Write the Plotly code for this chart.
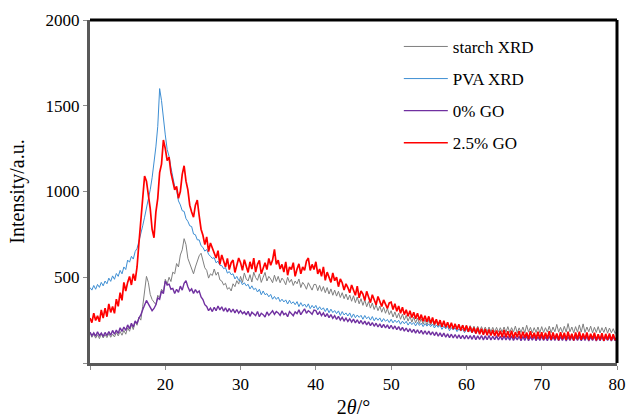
import numpy as np
import plotly.graph_objects as go

# scan grid: 10° to 80° in 0.25° steps (281 points)
two_theta = np.round(np.arange(10.0, 80.0001, 0.25), 2)

starch_xrd = [
    178, 150, 168, 145, 165, 142, 170, 146, 166, 148, 172, 150, 168, 152, 178, 158, 184, 162, 190, 168,
    205, 185, 222, 195, 240, 220, 268, 250, 330, 410, 505, 470, 400, 370, 352, 340, 395, 380, 430, 415,
    488, 460, 500, 475, 530, 520, 580, 560, 630, 660, 725, 690, 610, 580, 540, 520, 560, 590, 625, 640,
    600, 555, 540, 495, 520, 510, 548, 512, 530, 485, 478, 455, 465, 430, 440, 420, 462, 445, 480, 460,
    505, 470, 525, 490, 478, 515, 472, 530, 498, 482, 520, 470, 500, 528, 478, 505, 490, 468, 512, 476,
    505, 468, 495, 480, 456, 500, 470, 488, 452, 478, 462, 490, 440, 470, 455, 430, 468, 445, 425, 458,
    458, 422, 452, 418, 446, 410, 440, 402, 432, 395, 425, 390, 418, 382, 410, 375, 402, 368, 396, 360,
    392, 352, 385, 345, 375, 336, 368, 328, 358, 320, 350, 312, 340, 305, 332, 296, 325, 290, 318, 282,
    305, 268, 298, 262, 290, 255, 285, 250, 278, 244, 272, 238, 268, 234, 262, 230, 258, 226, 254, 222,
    252, 222, 248, 218, 244, 214, 240, 210, 236, 206, 232, 204, 230, 200, 228, 198, 225, 196, 222, 194,
    220, 190, 218, 188, 215, 186, 214, 185, 212, 184, 210, 182, 210, 182, 208, 180, 208, 180, 206, 180,
    210, 180, 212, 178, 206, 180, 215, 176, 205, 178, 210, 176, 220, 180, 208, 175, 206, 178, 210, 176,
    212, 178, 206, 180, 215, 176, 210, 182, 225, 180, 208, 178, 214, 180, 230, 182, 210, 176, 212, 180,
    222, 180, 228, 178, 210, 182, 215, 176, 208, 178, 212, 175, 206, 178, 210, 174, 204, 176, 200, 172,
    185,
]

pva_xrd = [
    440, 425, 452, 430, 458, 441, 470, 450, 478, 462, 495, 476, 508, 488, 522, 505, 540, 520, 560, 545,
    600, 588, 622, 606, 650, 668, 710, 748, 800, 850, 900, 950, 1010, 1080, 1160, 1260, 1380, 1600, 1530, 1420,
    1330, 1245, 1205, 1140, 1092, 1030, 1008, 945, 922, 888, 884, 842, 826, 800, 796, 752, 748, 718, 718, 684,
    674, 652, 662, 634, 622, 610, 614, 584, 594, 570, 568, 550, 556, 524, 533, 515, 520, 490, 505, 482,
    480, 456, 468, 450, 459, 432, 450, 428, 436, 414, 430, 398, 420, 398, 405, 386, 400, 372, 388, 371,
    384, 358, 372, 356, 368, 344, 366, 346, 357, 340, 358, 329, 352, 331, 344, 325, 345, 317, 336, 320,
    336, 310, 328, 310, 322, 300, 320, 293, 314, 294, 306, 288, 304, 277, 300, 280, 292, 274, 292, 265,
    286, 264, 280, 266, 278, 255, 277, 258, 270, 250, 271, 246, 264, 249, 263, 240, 259, 243, 254, 236,
    255, 234, 250, 236, 249, 226, 244, 229, 243, 221, 239, 224, 236, 216, 237, 219, 232, 212, 230, 215,
    228, 212, 227, 204, 222, 208, 221, 196, 214, 199, 213, 188, 206, 192, 205, 183, 199, 186, 197, 177,
    197, 180, 192, 175, 193, 170, 188, 173, 189, 166, 184, 169, 185, 163, 180, 165, 182, 158, 178, 161,
    181, 158, 176, 161, 179, 154, 174, 158, 176, 152, 171, 157, 174, 149, 170, 155, 171, 148, 168, 153,
    171, 148, 166, 152, 169, 146, 164, 150, 167, 143, 163, 149, 166, 142, 161, 148, 165, 141, 160, 147,
    164, 141, 160, 146, 163, 140, 158, 145, 162, 138, 157, 144, 161, 137, 156, 143, 160, 137, 155, 142,
    152,
]

go_0 = [
    180, 160, 176, 156, 182, 160, 175, 155, 178, 160, 184, 162, 190, 168, 192, 172, 205, 184, 210, 190,
    222, 200, 232, 210, 245, 230, 262, 280, 310, 335, 365, 345, 320, 305, 318, 340, 380, 372, 420, 405,
    478, 455, 460, 430, 435, 405, 430, 412, 448, 425, 465, 480, 445, 420, 432, 405, 428, 410, 420, 385,
    370, 340, 330, 305, 320, 300, 325, 305, 332, 310, 328, 302, 322, 298, 318, 296, 315, 292, 312, 290,
    305, 288, 298, 280, 302, 272, 296, 285, 276, 300, 270, 290, 282, 268, 298, 278, 292, 305, 284, 300,
    292, 278, 304, 282, 290, 270, 300, 285, 276, 298, 288, 310, 282, 300, 316, 290, 305, 296, 284, 308,
    305, 282, 298, 276, 292, 270, 288, 264, 282, 260, 276, 254, 272, 250, 266, 246, 262, 242, 258, 238,
    256, 234, 252, 230, 248, 226, 244, 222, 240, 218, 236, 214, 232, 210, 228, 206, 225, 204, 222, 200,
    220, 198, 216, 194, 212, 190, 208, 186, 204, 182, 200, 178, 196, 174, 194, 172, 190, 168, 188, 166,
    186, 164, 182, 160, 180, 156, 176, 154, 174, 150, 170, 148, 168, 146, 166, 144, 164, 142, 162, 140,
    162, 140, 160, 138, 162, 136, 158, 138, 160, 135, 158, 136, 160, 134, 156, 136, 158, 134, 156, 135,
    158, 134, 155, 133, 158, 132, 154, 134, 156, 130, 155, 132, 157, 130, 154, 133, 156, 130, 154, 132,
    156, 132, 154, 130, 157, 131, 153, 132, 156, 130, 154, 131, 156, 129, 153, 132, 155, 130, 154, 131,
    155, 130, 153, 131, 156, 129, 152, 131, 155, 128, 153, 130, 154, 129, 152, 131, 154, 128, 153, 130,
    146,
]

go_2_5 = [
    262, 235, 290, 248, 275, 240, 310, 262, 320, 270, 345, 295, 330, 290, 372, 330, 410, 365, 470, 420,
    470, 505, 455, 520, 480, 560, 700, 830, 960, 1090, 1060, 990, 900, 780, 730, 880, 960, 1110, 1160, 1300,
    1250, 1180, 1200, 1110, 1060, 1010, 1030, 960, 1000, 1100, 1150, 1060, 1010, 920, 880, 850, 920, 950, 860, 780,
    745, 690, 735, 650, 700, 668, 640, 612, 655, 575, 630, 598, 560, 610, 545, 585, 600, 528, 570, 612,
    585, 540, 602, 560, 528, 590, 548, 612, 530, 575, 598, 520, 560, 585, 545, 610, 570, 600, 662, 575,
    600, 548, 575, 530, 590, 512, 560, 545, 585, 505, 548, 578, 520, 560, 540, 595, 612, 540, 575, 545,
    590, 520, 548, 505, 560, 482, 530, 498, 470, 525, 480, 500, 445, 490, 468, 425, 462, 440, 410, 455,
    430, 395, 448, 380, 420, 402, 365, 418, 385, 352, 398, 370, 340, 388, 352, 330, 368, 340, 318, 350,
    355, 312, 345, 302, 332, 290, 325, 282, 310, 272, 305, 265, 296, 258, 290, 250, 282, 244, 276, 240,
    272, 232, 265, 225, 255, 220, 250, 212, 246, 208, 238, 202, 235, 198, 228, 195, 225, 190, 220, 186,
    218, 182, 212, 178, 206, 172, 205, 168, 200, 165, 198, 162, 195, 160, 192, 158, 190, 155, 188, 152,
    192, 150, 185, 148, 188, 145, 180, 150, 186, 142, 182, 148, 178, 140, 185, 145, 176, 140, 182, 142,
    180, 138, 176, 142, 185, 136, 178, 140, 172, 134, 180, 140, 176, 135, 182, 138, 170, 132, 178, 138,
    182, 136, 172, 140, 178, 134, 170, 138, 176, 132, 168, 136, 174, 130, 170, 136, 172, 132, 168, 134,
    150,
]

series_names = ["starch XRD", "PVA XRD", "0% GO", "2.5% GO"]
series_values = [starch_xrd, pva_xrd, go_0, go_2_5]
series_colors = ["#7f7f7f", "#3d8ed3", "#7030a0", "#ff0000"]
series_widths = [1, 1, 1.4, 1.7]

x_tick_vals = [10, 20, 30, 40, 50, 60, 70, 80]
x_tick_text = ["", "20", "30", "40", "50", "60", "70", "80"]
y_tick_vals = [0, 500, 1000, 1500, 2000]
y_tick_text = ["", "500", "1000", "1500", "2000"]

fig = go.Figure()
for i, (name, vals, col, w) in enumerate(zip(series_names, series_values, series_colors, series_widths)):
    n = min(len(vals), len(two_theta))
    fig.add_trace(go.Scatter(
        x=two_theta[:n], y=vals[:n], mode="lines", name=name,
        line=dict(color=col, width=w), legendgroup=f"g{i}",
    ))

font_family = "Liberation Serif, Times New Roman, serif"
fig.update_layout(
    width=628, height=418,
    margin=dict(l=90, r=11, t=20, b=55),
    paper_bgcolor="white", plot_bgcolor="white",
    font=dict(family=font_family, size=17, color="black"),
    showlegend=True,
    legend=dict(x=0.586, y=0.974, xanchor="left", yanchor="top",
                bgcolor="rgba(0,0,0,0)", font=dict(size=17, family=font_family),
                tracegroupgap=7, itemwidth=44),
    xaxis=dict(range=[10, 80], tickvals=x_tick_vals, ticktext=x_tick_text,
               showgrid=False, zeroline=False, showline=True, linecolor="#595959",
               linewidth=3, ticks="outside", ticklen=4, tickcolor="#8c8c8c",
               automargin=False, tickfont=dict(size=17),
               title=dict(text="2<i>θ</i>/°", font=dict(size=20), standoff=9)),
    yaxis=dict(range=[0, 2000], tickvals=y_tick_vals, ticktext=y_tick_text,
               showgrid=False, zeroline=False, showline=True, linecolor="#595959",
               linewidth=3, ticks="outside", ticklen=4, tickcolor="#8c8c8c",
               automargin=False, tickfont=dict(size=17),
               title=dict(text="Intensity/a.u.", font=dict(size=20), standoff=16)),
    shapes=[
        dict(type="line", xref="paper", yref="paper", x0=0, x1=1, y0=1, y1=1,
             line=dict(color="black", width=3)),
        dict(type="line", xref="paper", yref="paper", x0=1, x1=1, y0=0, y1=1,
             line=dict(color="black", width=3)),
    ],
)

fig.write_html("out.html", config={"displayModeBar": False},
               post_script="document.body.style.margin='0px';")
